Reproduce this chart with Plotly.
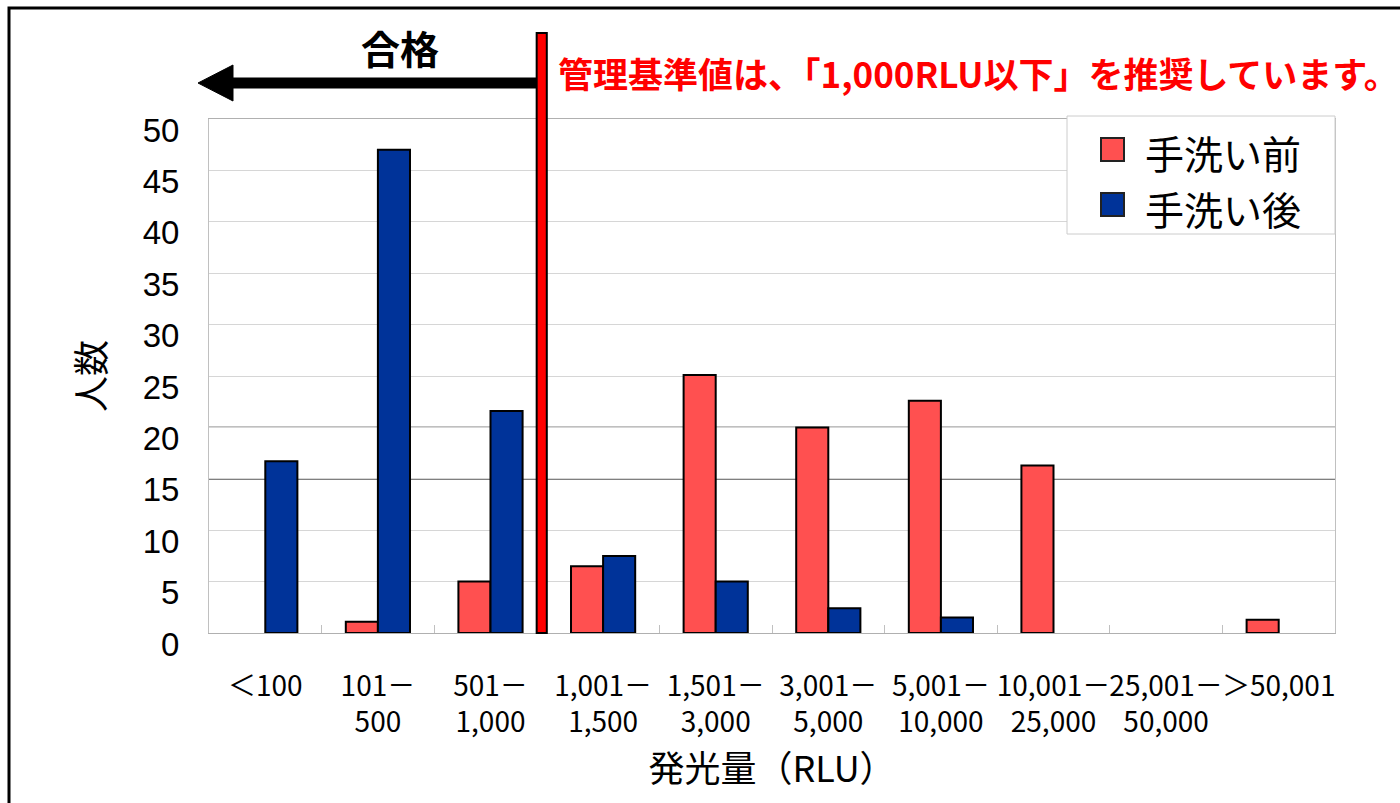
import plotly.graph_objects as go

# RLU bins and head-count per bin
categories = ["＜100", "101－<br>500", "501－<br>1,000", "1,001－<br>1,500", "1,501－<br>3,000",
              "3,001－<br>5,000", "5,001－<br>10,000", "10,001－<br>25,000", "25,001－<br>50,000", "＞50,001"]
before_wash = [0, 1.1, 5, 6.5, 25.1, 20.0, 22.6, 16.3, 0, 1.3]
after_wash = [16.7, 47.0, 21.6, 7.5, 5.0, 2.4, 1.5, 0, 0, 0]
series_names = ["手洗い前", "手洗い後"]
y_ticks = [0, 5, 10, 15, 20, 25, 30, 35, 40, 45, 50]

RED = "#FF5050"
BLUE = "#003399"
FONT = "Noto Sans CJK JP"
NUM_FONT = "Liberation Sans"

# plot area in pixels (page is 1400 x 803)
L, R, T, B = 209, 1335, 119, 633
W, H = R - L, B - T


def px(x):
    return (x - L) / W


def py(y):
    return (B - y) / H


def outline(values):
    # no outline on empty bins so they leave no stray line on the axis
    return [2 if v else 0 for v in values]


fig = go.Figure()
fig.add_trace(go.Bar(x=categories, y=before_wash, name=series_names[0],
                     marker=dict(color=RED, line=dict(color="black", width=outline(before_wash)))))
fig.add_trace(go.Bar(x=categories, y=after_wash, name=series_names[1],
                     marker=dict(color=BLUE, line=dict(color="black", width=outline(after_wash)))))

shapes = []
# darker gridlines at 15 and 20
for v in (15, 20):
    shapes.append(dict(type="line", xref="paper", yref="y", x0=0, x1=1, y0=v, y1=v,
                       line=dict(color="black", width=1.3), layer="between"))
# 1,000 RLU threshold bar
shapes.append(dict(type="rect", xref="x", yref="paper", x0=2.41, x1=2.50, y0=0, y1=py(33),
                   fillcolor="#FF0000", line=dict(color="black", width=2)))
# "pass" arrow pointing left
shapes.append(dict(type="line", xref="paper", yref="paper", x0=px(228), x1=px(537), y0=py(83), y1=py(83),
                   line=dict(color="black", width=11)))
shapes.append(dict(type="path", xref="paper", yref="paper",
                   path=f"M {px(198)} {py(83)} L {px(233)} {py(65)} L {px(233)} {py(101)} Z",
                   fillcolor="black", line=dict(color="black", width=1)))
# legend box and swatches
shapes.append(dict(type="rect", xref="paper", yref="paper", x0=px(1067), x1=px(1335), y0=py(234), y1=py(116),
                   fillcolor="white", line=dict(color="#cccccc", width=1)))
shapes.append(dict(type="rect", xref="paper", yref="paper", x0=px(1101), x1=px(1124), y0=py(161), y1=py(138),
                   fillcolor=RED, line=dict(color="#222222", width=2)))
shapes.append(dict(type="rect", xref="paper", yref="paper", x0=px(1101), x1=px(1124), y0=py(216), y1=py(193),
                   fillcolor=BLUE, line=dict(color="#222222", width=2)))
# outer frame
shapes.append(dict(type="rect", xref="paper", yref="paper", x0=px(9), x1=px(1420), y0=py(830), y1=py(8),
                   line=dict(color="black", width=3)))

annotations = [
    dict(text="<b>合格</b>", xref="paper", yref="paper", x=px(400), y=py(47), showarrow=False,
         font=dict(family=FONT, size=39, color="black"), xanchor="center", yanchor="middle"),
    dict(text="<b>管理基準値は、「1,000RLU以下」を推奨しています。</b>", xref="paper", yref="paper",
         x=px(556), y=py(72), showarrow=False, font=dict(family=FONT, size=35, color="#FF0000"),
         xanchor="left", yanchor="middle"),
    dict(text=series_names[0], xref="paper", yref="paper", x=px(1143), y=py(152), showarrow=False,
         font=dict(family=FONT, size=39, color="black"), xanchor="left", yanchor="middle"),
    dict(text=series_names[1], xref="paper", yref="paper", x=px(1143), y=py(208), showarrow=False,
         font=dict(family=FONT, size=39, color="black"), xanchor="left", yanchor="middle"),
]

fig.update_layout(
    width=1400, height=803,
    margin=dict(l=L, r=1400 - R, t=T, b=803 - B, autoexpand=False),
    paper_bgcolor="white", plot_bgcolor="white",
    barmode="group", bargap=0.43, bargroupgap=0,
    showlegend=False,
    font=dict(family=FONT, color="black"),
    shapes=shapes, annotations=annotations,
)
fig.update_xaxes(
    automargin=False, tickangle=0, tickfont=dict(size=28, family=FONT),
    ticks="inside", tickson="boundaries", ticklen=8, tickcolor="#c0c0c0",
    showline=True, linecolor="#b0b0b0", linewidth=1, mirror=True,
    ticklabelstandoff=28,
    title=dict(text="発光量（RLU）", font=dict(size=36, family=FONT), standoff=4),
)
fig.update_yaxes(
    automargin=False, range=[0, 50], tickvals=y_ticks,
    tickfont=dict(size=33, family=NUM_FONT), ticklabelstandoff=22, ticklabelshift=11,
    showgrid=True, gridcolor="#d6d6d6", gridwidth=1, zeroline=False,
    showline=True, linecolor="#c0c0c0", linewidth=1, mirror=True,
    title=dict(text="人数", font=dict(size=36, family=FONT), standoff=26),
)

fig.write_html("out.html")
